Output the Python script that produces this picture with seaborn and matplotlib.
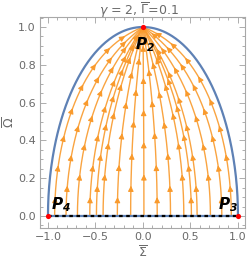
import numpy as np
import pandas as pd
import matplotlib
matplotlib.use("Agg")
import matplotlib.pyplot as plt
import seaborn as sns
from matplotlib.ticker import MultipleLocator

# ---- data ----
start_sigma = [-0.93, -0.81, -0.69, -0.56, -0.49, -0.42, -0.27, -0.13, 0.01,
               0.15, 0.29, 0.43, 0.51, 0.57, 0.71, 0.83, 0.93]
cp_sigma = [0.0, 1.0, -1.0]
cp_omega = [1.0, 0.0, 0.0]
cp_names = ["P_2", "P_3", "P_4"]
cp_label_pos = [(0.02, 0.905), (0.90, 0.058), (-0.86, 0.058)]
x_ticks = [-1.0, -0.5, 0.0, 0.5, 1.0]
y_ticks = [0.0, 0.2, 0.4, 0.6, 0.8, 1.0]
title = r"$\gamma$ = 2, $\overline{\Gamma}$=0.1"

ORANGE = "#F99A2C"
BLUE = "#5E81B5"
GRAY = "#6A6A6A"


def trajectory(s0, omega):
    # flow lines of the phase portrait: start on Omega=0 at s0, end at P2
    w0 = s0 / np.sqrt(1 - s0 ** 2)
    r = np.sqrt(np.clip(1 - omega ** 2, 0, None))
    w = w0 * r
    return r * w / np.sqrt(1 + w ** 2)


sns.set_theme(style="ticks")
plt.rcParams["font.family"] = ["DejaVu Sans"]
plt.rcParams["mathtext.fontset"] = "custom"
plt.rcParams["mathtext.bf"] = "DejaVu Sans:bold:italic"
plt.rcParams["mathtext.rm"] = "DejaVu Sans"
plt.rcParams["mathtext.it"] = "DejaVu Sans:italic"

fig = plt.figure(figsize=(2.5, 2.64), dpi=100)
ax = fig.add_axes([0.16, 0.1364, 0.82, 0.7992])

omega = np.linspace(0, 0.9995, 400)
rows = []
for i, s0 in enumerate(start_sigma):
    sig = trajectory(s0, omega)
    rows.append(pd.DataFrame({"sigma": sig, "omega": omega, "line": i}))
streams = pd.concat(rows, ignore_index=True)

sns.lineplot(data=streams, x="sigma", y="omega", units="line", estimator=None,
             sort=False, color=ORANGE, lw=1.0, alpha=0.9, ax=ax, legend=False)

# arrows along streamlines
for i, s0 in enumerate(start_sigma):
    sub = streams[streams["line"] == i]
    xs = sub["sigma"].to_numpy()
    ys = sub["omega"].to_numpy()
    seg = np.hypot(np.diff(xs), np.diff(ys))
    s = np.concatenate([[0], np.cumsum(seg)])
    off = 0.10 + 0.06 * (i % 3)
    for target in np.arange(off, s[-1] - 0.06, 0.17):
        k = np.searchsorted(s, target)
        k0 = max(np.searchsorted(s, target - 0.03), 0)
        ax.annotate("", xy=(xs[k], ys[k]), xytext=(xs[k0], ys[k0]),
                    arrowprops=dict(arrowstyle="-|>", color=ORANGE, lw=0.8,
                                    mutation_scale=8, shrinkA=0, shrinkB=0),
                    zorder=3)

# boundary
theta = np.linspace(0, np.pi, 300)
bnd = pd.DataFrame({"sigma": np.concatenate([np.cos(theta), [-1.0, 1.0]]),
                    "omega": np.concatenate([np.sin(theta), [0.0, 0.0]])})
sns.lineplot(data=bnd, x="sigma", y="omega", sort=False, estimator=None,
             color=BLUE, lw=1.6, ax=ax, zorder=4)
ax.plot([-1, 1], [0, 0], color="black", lw=1.6, ls=(0, (1.6, 1.6)), zorder=5)

# critical points
sns.scatterplot(x=cp_sigma, y=cp_omega, color="red", s=14, linewidth=0,
                ax=ax, zorder=6)
for name, (px, py) in zip(cp_names, cp_label_pos):
    ax.text(px, py, r"$\mathbf{%s}$" % name, fontsize=11, color="black",
            ha="center", va="center", zorder=7)

ax.set_xlim(-1.084, 1.074)
ax.set_ylim(-0.0635, 1.053)
ax.set_xticks(x_ticks)
ax.set_yticks(y_ticks)
ax.set_xticklabels([f"{v:.1f}".replace("-", "\u2212") for v in x_ticks])
ax.set_yticklabels([f"{v:.1f}" for v in y_ticks])
ax.xaxis.set_minor_locator(MultipleLocator(0.1))
ax.yaxis.set_minor_locator(MultipleLocator(0.05))
ax.tick_params(which="both", direction="in", top=True, right=True,
               color="#A0A0A0", width=0.6, labelcolor=GRAY, labelsize=8, pad=3)
ax.tick_params(which="major", length=4)
ax.tick_params(which="minor", length=2)
for sp in ax.spines.values():
    sp.set_color("#A8A8A8")
    sp.set_linewidth(0.8)

ax.set_xlabel(r"$\overline{\Sigma}$", color=GRAY, fontsize=9, labelpad=2)
ax.set_ylabel(r"$\overline{\Omega}$", color=GRAY, fontsize=9)
ax.yaxis.set_label_coords(-0.112, 0.5)
fig.text(0.556, 1 - 10.5 / 264, title, color=GRAY, fontsize=9,
         ha="center", va="center")

fig.savefig("out.png", dpi=100)
